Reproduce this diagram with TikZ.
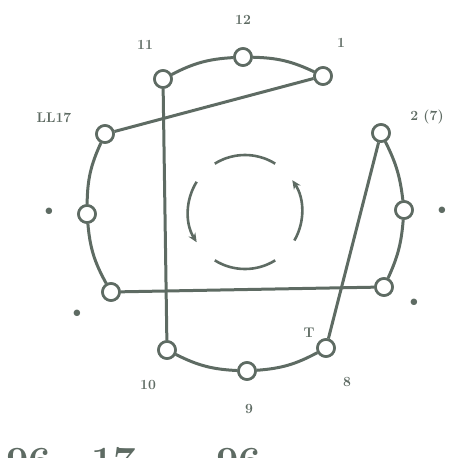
\documentclass[tikz,border=0pt]{standalone}
\usetikzlibrary{arrows.meta}
\definecolor{ink}{HTML}{5E6B63}
\begin{document}
\begin{tikzpicture}[x=1pt,y=-1pt,
  pin/.style={circle,draw=ink,fill=white,line width=2.6pt,minimum size=17pt,inner sep=0pt},
  wire/.style={draw=ink,line width=3pt},
  lbl/.style={text=ink,font=\fontsize{14}{14}\selectfont\bfseries,inner sep=0pt},
  dotlbl/.style={text=ink,font=\fontsize{22}{22}\selectfont\bfseries,inner sep=0pt},
  spin/.style={draw=ink,line width=2.6pt,-{Stealth[length=9pt,width=8pt]}}]
\useasboundingbox (0,0) rectangle (451,458);
% nodes
\node[pin] (n12) at (243,57) {};
\node[pin] (n1) at (323,76) {};
\node[pin] (n11) at (163,79) {};
\node[pin] (n10) at (105,134) {};
\node[pin] (n2) at (381,133) {};
\node[pin] (n9) at (87,214) {};
\node[pin] (n3) at (404,210) {};
\node[pin] (n8) at (111,292) {};
\node[pin] (n4) at (384,287) {};
\node[pin] (n7) at (167,350) {};
\node[pin] (n6) at (247,371) {};
\node[pin] (n5) at (326,348) {};
% connectors
\draw[wire] (n11) to[bend left=12] (n12);
\draw[wire] (n12) to[bend left=12] (n1);
\draw[wire] (n1) -- (n10);
\draw[wire] (n11) -- (n7);
\draw[wire] (n10) to[bend right=12] (n9);
\draw[wire] (n9) to[bend right=12] (n8);
\draw[wire] (n8) -- (n4);
\draw[wire] (n2) to[bend left=10] (n3);
\draw[wire] (n3) to[bend left=10] (n4);
\draw[wire] (n2) -- (n5);
\draw[wire] (n7) to[bend right=12] (n6);
\draw[wire] (n6) to[bend right=12] (n5);
% redraw pins on top
\foreach \n in {n12,n1,n11,n10,n2,n9,n3,n8,n4,n7,n6,n5}{\node[pin] at (\n) {};}
% rotation arcs
\coordinate (c) at (245,212);
\draw[draw=ink,line width=2.6pt] ([shift={(238:57)}]c) arc[start angle=238,end angle=302,radius=57];
\draw[spin] ([shift={(212:57)}]c) arc[start angle=212,end angle=148,radius=57];
\draw[draw=ink,line width=2.6pt] ([shift={(122:57)}]c) arc[start angle=122,end angle=58,radius=57];
\draw[spin] ([shift={(30:57)}]c) arc[start angle=30,end angle=-34,radius=57];
% labels
\node[lbl] (t12) at (243,20) {12};
\node[lbl] (t11) at (145,45) {11};
\node[lbl] (t1) at (341,43) {1};
\node[lbl] (tL) at (54,118) {LL17};
\node[lbl] (tR) at (427,117) {2 (7)};
\node[dotlbl] (t3) at (442,211) {\textbullet};
\node[dotlbl] (t4) at (414,303) {\textbullet};
\node[lbl] (tT) at (309,333) {T};
\node[lbl] (t8) at (347,382) {8};
\node[lbl] (t9) at (249,409) {9};
\node[lbl] (t10) at (148,385) {10};
\node[dotlbl] (tl1) at (49,212) {\textbullet};
\node[dotlbl] (tl2) at (77,314) {\textbullet};
% bottom caption, cut off by the page edge as in the reference
\node[text=ink,font=\fontsize{40}{40}\selectfont\bfseries,anchor=north west,inner sep=0pt] (cap) at (6,447) {96\hspace{40pt}17\hspace{80pt}96};
\end{tikzpicture}
\end{document}
